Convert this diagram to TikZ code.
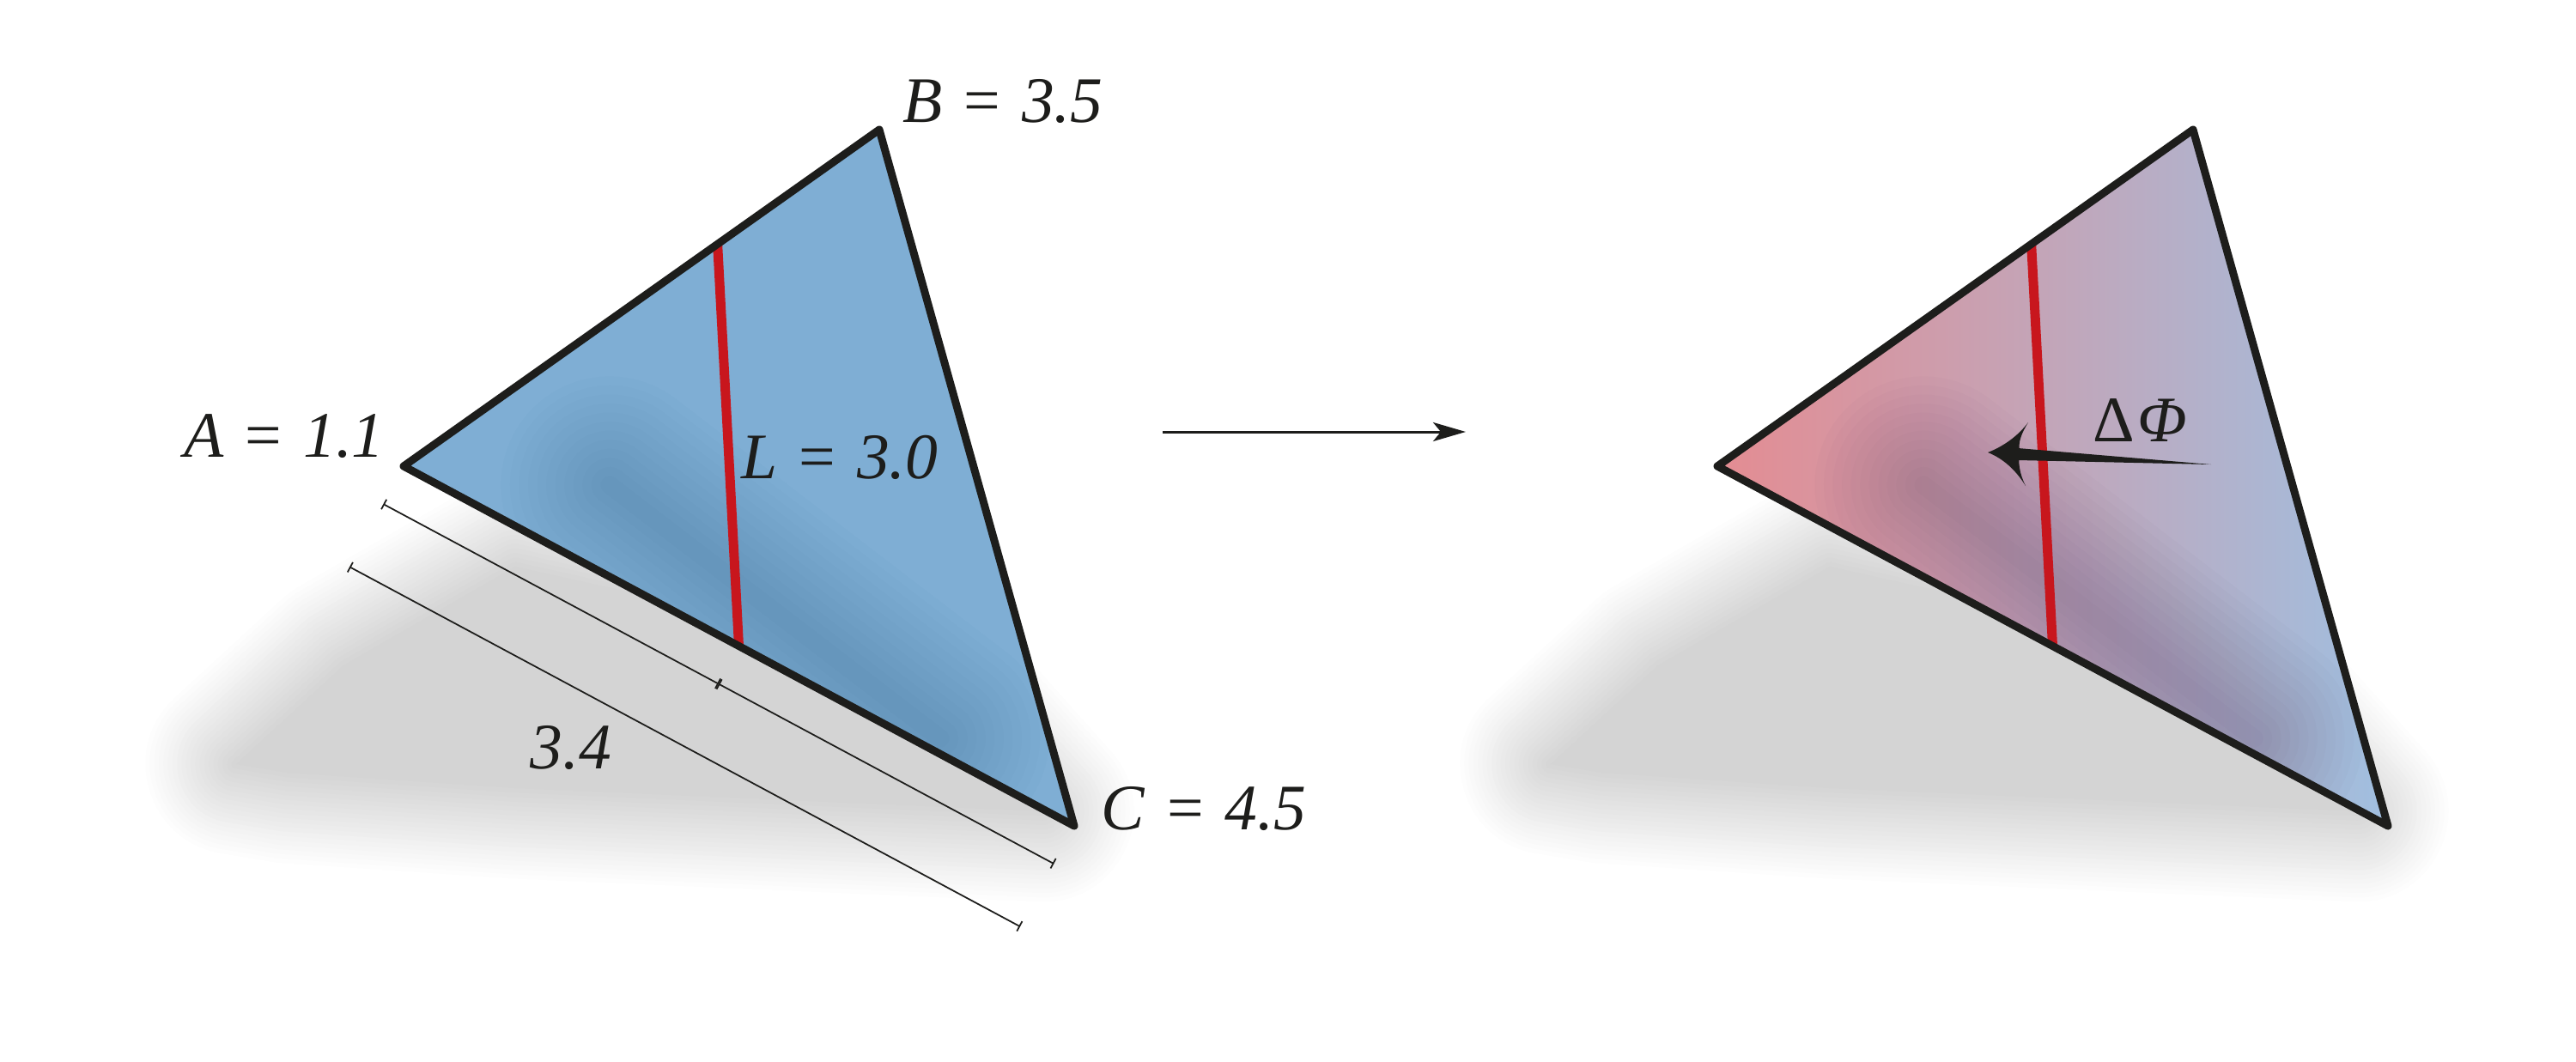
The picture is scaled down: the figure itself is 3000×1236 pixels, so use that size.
\documentclass[tikz,border=0pt]{standalone}
\usepackage{fontspec}
\setmainfont{Liberation Serif}
\usetikzlibrary{arrows.meta,calc}

\definecolor{inkblack}{RGB}{29,29,27}
\definecolor{cutred}{RGB}{200,22,29}
\definecolor{triblue}{RGB}{127,174,212}
\definecolor{bandblue}{RGB}{40,90,140}
\definecolor{bandplum}{RGB}{60,40,80}
\definecolor{mixpink}{RGB}{228,140,146}
\definecolor{mixblue}{RGB}{160,191,224}

\newcommand{\vallabel}[2]{\textit{#1}\hspace{0.08em} = \hspace{0.08em}\textit{#2}}
\def\shadowshape{(275,890) -- (400,775) -- (600,660) -- (1050,760) -- (1215,945) -- (600,918) -- (335,900) -- cycle}

\tikzset{
  lbl/.style={font=\fontsize{21.5}{26}\selectfont, inner sep=0pt, text=inkblack},
  tri/.style={draw=inkblack, line width=0.09cm, line join=round},
  redcut/.style={draw=cutred, line width=0.11cm},
  dimline/.style={draw=inkblack, line width=0.5pt, {Bar[width=0.13cm]}-{Bar[width=0.13cm]}},
  flowarrow/.style={draw=inkblack, line width=0.03cm, -{Stealth[length=0.38cm, width=0.22cm, inset=0.09cm]}},
}

\begin{document}
\begin{tikzpicture}[x=0.01cm, y=-0.01cm]
  \useasboundingbox (0,0) rectangle (3000,1236);

  % corners of both triangles
  \coordinate (A) at (470,543);
  \coordinate (B) at (1024,151);
  \coordinate (C) at (1251,962);
  \coordinate (A2) at (2000,543);
  \coordinate (B2) at (2554,151);
  \coordinate (C2) at (2781,962);
  \coordinate (bandS) at (710,565);
  \coordinate (bandE) at (1095,860);
  \coordinate (bandS2) at (2240,565);
  \coordinate (bandE2) at (2625,860);

  % soft shadows
  \foreach \sx in {0cm,15.3cm} {
    \begin{scope}[xshift=\sx]
      \foreach \k in {20,...,1} {
        \pgfmathsetmacro\w{\k*3}
        \pgfmathsetmacro\p{17*(1-\k/21)}
        \filldraw[fill=black!\p, draw=black!\p, line width=\w pt, line join=round] \shadowshape;
      }
      \fill[black!17] \shadowshape;
    \end{scope}
  }

  % left triangle
  \begin{scope}
    \clip (A) -- (B) -- (C) -- cycle;
    \fill[triblue] (A) -- (B) -- (C) -- cycle;
    \foreach \k in {1,...,12} {
      \pgfmathsetmacro\w{\k*6}
      \draw[bandblue, opacity=0.024, line width=\w pt, line cap=round] (bandS) -- (bandE);
    }
  \end{scope}
  \coordinate (cutTop) at ($(A)!0.66!(B)$);
  \coordinate (cutBot) at ($(A)!0.5!(C)$);
  \draw[redcut] (cutTop) -- (cutBot);
  \draw[tri] (A) -- (B) -- (C) -- cycle;

  % right triangle
  \begin{scope}
    \clip (A2) -- (B2) -- (C2) -- cycle;
    \shade[left color=mixpink, right color=mixblue] (2000,140) rectangle (2781,970);
    \foreach \k in {1,...,12} {
      \pgfmathsetmacro\w{\k*6}
      \draw[bandplum, opacity=0.0184, line width=\w pt, line cap=round] (bandS2) -- (bandE2);
    }
  \end{scope}
  \coordinate (cutTop2) at ($(A2)!0.66!(B2)$);
  \coordinate (cutBot2) at ($(A2)!0.5!(C2)$);
  \draw[redcut] (cutTop2) -- (cutBot2);
  \draw[tri] (A2) -- (B2) -- (C2) -- cycle;

  % length bars along AC
  \coordinate (dimAi) at ($(A)!0.5cm!-90:(C)$);
  \coordinate (dimCi) at ($(C)!0.5cm!90:(A)$);
  \coordinate (dimMi) at ($(dimAi)!0.5!(dimCi)$);
  \coordinate (dimAo) at ($(A)!1.33cm!-90:(C)$);
  \coordinate (dimCo) at ($(C)!1.33cm!90:(A)$);
  \draw[dimline] (dimAi) -- (dimMi);
  \draw[dimline] (dimMi) -- (dimCi);
  \draw[dimline] (dimAo) -- (dimCo);

  % map arrow
  \coordinate (flowS) at (1354,503);
  \coordinate (flowE) at (1707,503);
  \draw[flowarrow] (flowS) -- (flowE);

  % flux arrow
  \coordinate (phiTail) at (2575,541);
  \coordinate (phiTip) at (2315,527);
  \coordinate (phiBarbT) at (2362,492);
  \coordinate (phiNotch) at (2352,527);
  \coordinate (phiBarbB) at (2359,566);
  \fill[inkblack] (phiTail) -- (2350,522) -- (2350,536) -- cycle;
  \fill[inkblack] (phiTip) .. controls (2333,520) and (2350,508) .. (phiBarbT)
    .. controls (2354,505) and (2350,515) .. (phiNotch)
    .. controls (2350,539) and (2352,552) .. (phiBarbB)
    .. controls (2348,548) and (2333,534) .. (phiTip) -- cycle;

  % labels
  \node[lbl] (labA) at (331,508) {\vallabel{A}{1.1}};
  \node[lbl] (labB) at (1168,118) {\vallabel{B}{3.5}};
  \node[lbl] (labC) at (1402,942) {\vallabel{C}{4.5}};
  \node[lbl] (labL) at (978,533) {\vallabel{L}{3.0}};
  \node[lbl] (labLen) at (665,871) {\textit{3.4}};
  \node[lbl] (labPhi) at (2492,490) {Δ\hspace{0.05em}\textit{Φ}};
\end{tikzpicture}
\end{document}
